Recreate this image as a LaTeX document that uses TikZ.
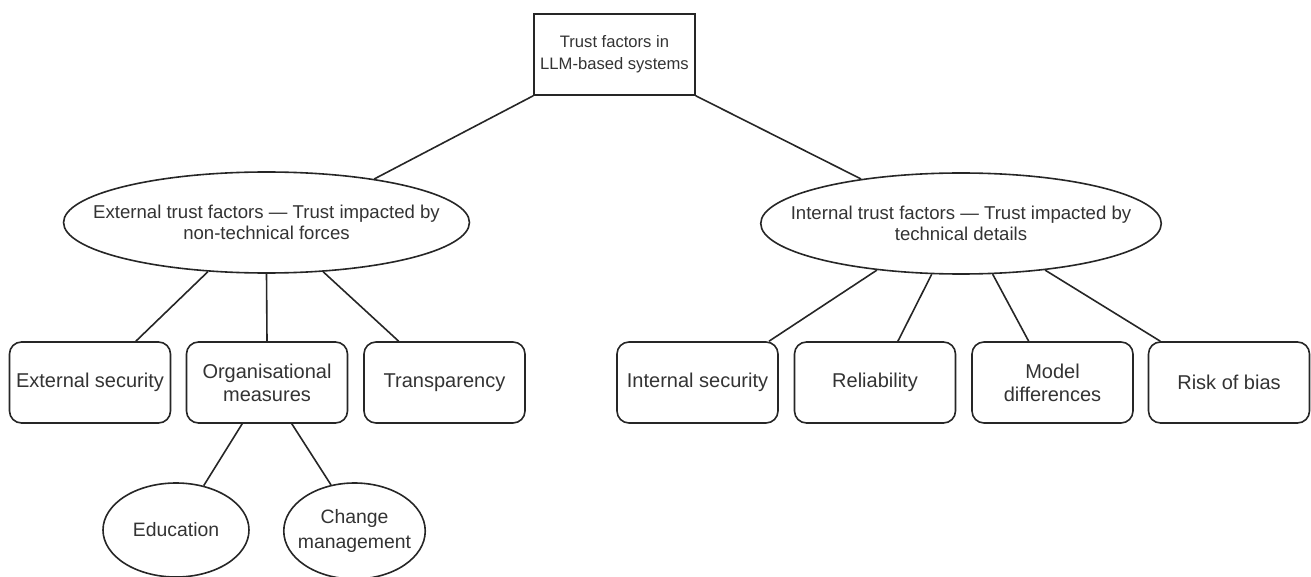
\documentclass[tikz,border=0pt]{standalone}
\usepackage{fontspec}
\setmainfont{Liberation Sans}
\usepackage{tikz}
\usetikzlibrary{shapes.geometric}

\begin{document}
\begin{tikzpicture}[
    x=0.5pt, y=-0.5pt,
    line width=0.8pt, color=black!85,
    root/.style={rectangle, draw, minimum width=80.5pt, minimum height=40.5pt, inner sep=0pt,
        align=center, text=black!80, font=\fontsize{8.3}{11}\selectfont},
    group/.style={ellipse, draw, minimum width=202pt, minimum height=50.5pt, inner ysep=0pt,
        align=center, text=black!80, font=\fontsize{9.3}{10.5}\selectfont},
    factor/.style={rectangle, rounded corners=6pt, draw, minimum width=80.5pt, minimum height=40.5pt,
        inner sep=0pt, align=center, text=black!80, font=\fontsize{10}{11.5}\selectfont},
    measure/.style={ellipse, draw, minimum width=72pt, minimum height=47pt, inner sep=0pt,
        align=center, text=black!80, font=\fontsize{9.7}{12.5}\selectfont}
]
\useasboundingbox (0,0) rectangle (1311,577);

% root
\node[root] (trust) at (614.5,54.5) {Trust factors in\\LLM-based systems};

% the two groups (negative xsep keeps the ellipse at its own size)
\node[group, inner xsep=-14.9pt] (ext) at (266.5,222.5)
    {External trust factors — Trust impacted by\\non-technical forces};
\node[group, inner xsep=-14.3pt, minimum width=200pt] (int) at (961,223.5)
    {Internal trust factors — Trust impacted by\\technical details};

% external factors
\node[factor] (extsec) at (90,382.5)    {External security};
\node[factor] (orgmea) at (267,382.5)   {Organisational\\measures};
\node[factor] (transp) at (444.5,382.5) {Transparency};

% internal factors
\node[factor] (intsec) at (697.5,382.5)  {Internal security};
\node[factor] (reliab) at (875,382.5)    {Reliability};
\node[factor] (moddif) at (1052.5,382.5) {Model\\differences};
\node[factor] (bias)   at (1229,382.5)   {Risk of bias};

% organisational measures
\node[measure, minimum width=73pt] (edu) at (176,530) {Education};
\node[measure, inner xsep=-3.3pt, minimum width=70.5pt, minimum height=48pt] (chg) at (354.5,531)
    {Change\\management};

% root to groups
\draw (trust.south west) -- (ext.22.2);
\draw (trust.south east) -- (int.156.3);

% external group
\draw (ext.220.1) -- (extsec.42);
\draw (ext.south) -- (orgmea.north);
\draw (ext.319.9) -- (transp.138.3);

% internal group
\draw (int.209.9) -- (intsec.30.2);
\draw (int.240.5) -- (reliab.61.5);
\draw (int.302.9) -- (moddif.120.1);
\draw (int.331.6) -- (bias.149.2);

% measures
\draw (orgmea.239.4) -- (edu.58.5);
\draw (orgmea.301.7) -- (chg.117.1);

\end{tikzpicture}
\end{document}
